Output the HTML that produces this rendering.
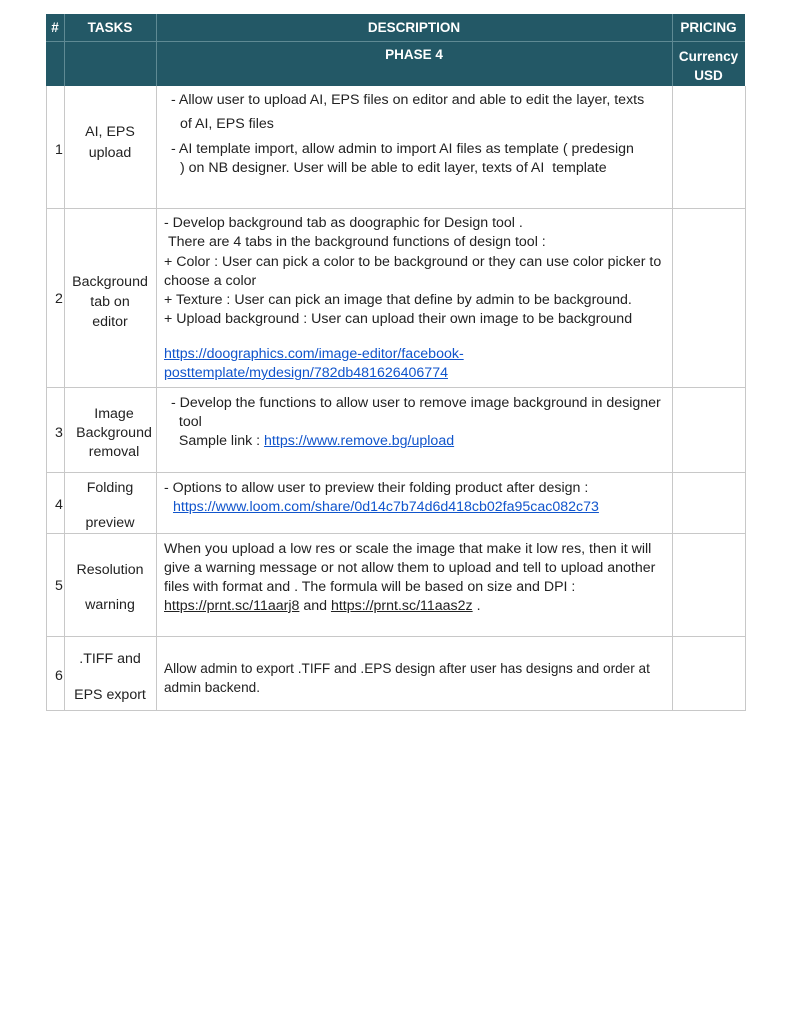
<!DOCTYPE html>
<html><head><meta charset="utf-8"><style>
body{margin:0;width:791px;height:1024px;background:#fff;position:relative;font-family:"Liberation Sans",sans-serif;font-size:14.2px;color:#222;overflow:hidden}
.t{position:absolute;white-space:nowrap;line-height:16px}
.c{text-align:center}
.w{color:#fff;font-weight:bold;font-size:13.5px}
.l{color:#1155cc;text-decoration:underline}
.u{text-decoration:underline}
.hl{position:absolute;height:1px;background:#c8c8c8}
.vl{position:absolute;width:1px;background:#c8c8c8}
</style></head><body>
<div style="position:absolute;left:46px;top:14px;width:699px;height:72px;background:#235866"></div>
<div style="position:absolute;left:46px;top:41px;width:699px;height:1px;background:#5f8a94"></div>
<div style="position:absolute;left:64px;top:14px;width:1px;height:72px;background:#5f8a94"></div>
<div style="position:absolute;left:156px;top:14px;width:1px;height:72px;background:#5f8a94"></div>
<div style="position:absolute;left:672px;top:14px;width:1px;height:72px;background:#5f8a94"></div>
<div class="t w c" style="left:46px;width:18px;top:20px">#</div>
<div class="t w c" style="left:64px;width:92px;top:20px">TASKS</div>
<div class="t w c" style="left:156px;width:516px;top:20px">DESCRIPTION</div>
<div class="t w c" style="left:672px;width:73px;top:20px">PRICING</div>
<div class="t w c" style="left:156px;width:516px;top:47px">PHASE 4</div>
<div class="t w c" style="left:672px;width:73px;top:47px;line-height:19px">Currency<br>USD</div>

<div class="vl" style="left:46px;top:86px;height:625px"></div>
<div class="vl" style="left:64px;top:86px;height:625px"></div>
<div class="vl" style="left:156px;top:86px;height:625px"></div>
<div class="vl" style="left:672px;top:86px;height:625px"></div>
<div class="vl" style="left:745px;top:86px;height:625px"></div>
<div class="hl" style="left:46px;width:700px;top:208px"></div>
<div class="hl" style="left:46px;width:700px;top:387px"></div>
<div class="hl" style="left:46px;width:700px;top:472px"></div>
<div class="hl" style="left:46px;width:700px;top:533px"></div>
<div class="hl" style="left:46px;width:700px;top:636px"></div>
<div class="hl" style="left:46px;width:700px;top:710px"></div>

<div class="t" style="left:55px;top:142px">1</div>
<div class="t c" style="left:64px;width:92px;top:122px;line-height:21px">AI, EPS<br>upload</div>
<div class="t" style="left:171px;top:92px">- Allow user to upload AI, EPS files on editor and able to edit the layer, texts</div>
<div class="t" style="left:180px;top:116px">of AI, EPS files</div>
<div class="t" style="left:171px;top:141px">- AI template import, allow admin to import AI files as template ( predesign</div>
<div class="t" style="left:180px;top:160px">) on NB designer. User will be able to edit layer, texts of AI &nbsp;template</div>

<div class="t" style="left:55px;top:291px">2</div>
<div class="t c" style="left:64px;width:92px;top:272px;line-height:20px">Background<br>tab on<br>editor</div>
<div class="t" style="left:164px;top:214px;line-height:19.3px">- Develop background tab as doographic for Design tool .<br>&nbsp;There are 4 tabs in the background functions of design tool :<br>+ Color : User can pick a color to be background or they can use color picker to<br>choose a color<br>+ Texture : User can pick an image that define by admin to be background.<br>+ Upload background : User can upload their own image to be background</div>
<div class="t l" style="left:164px;top:345px;line-height:19px">https://doographics.com/image-editor/facebook-<br>posttemplate/mydesign/782db481626406774</div>

<div class="t" style="left:55px;top:425px">3</div>
<div class="t c" style="left:64px;width:100px;top:405px;line-height:19px">Image<br>Background<br>removal</div>
<div class="t" style="left:171px;top:394px;line-height:19px">- Develop the functions to allow user to remove image background in designer<br>&nbsp;&nbsp;tool<br>&nbsp;&nbsp;Sample link : <span class="l">https://www.remove.bg/upload</span></div>

<div class="t" style="left:55px;top:497px">4</div>
<div class="t c" style="left:64px;width:92px;top:480px">Folding</div>
<div class="t c" style="left:64px;width:92px;top:515px">preview</div>
<div class="t" style="left:164px;top:480px">- Options to allow user to preview their folding product after design :</div>
<div class="t l" style="left:173px;top:499px">https://www.loom.com/share/0d14c7b74d6d418cb02fa95cac082c73</div>

<div class="t" style="left:55px;top:578px">5</div>
<div class="t c" style="left:64px;width:92px;top:562px">Resolution</div>
<div class="t c" style="left:64px;width:92px;top:597px">warning</div>
<div class="t" style="left:164px;top:540px;line-height:19px">When you upload a low res or scale the image that make it low res, then it will<br>give a warning message or not allow them to upload and tell to upload another<br>files with format and . The formula will be based on size and DPI :<br><span class="u">https://prnt.sc/11aarj8</span> and <span class="u">https://prnt.sc/11aas2z</span> .</div>

<div class="t" style="left:55px;top:668px">6</div>
<div class="t c" style="left:64px;width:92px;top:651px">.TIFF and</div>
<div class="t c" style="left:64px;width:92px;top:687px">EPS export</div>
<div class="t" style="left:164px;top:659px;line-height:19px;font-size:13.6px">Allow admin to export .TIFF and .EPS design after user has designs and order at<br>admin backend.</div>
</body></html>
